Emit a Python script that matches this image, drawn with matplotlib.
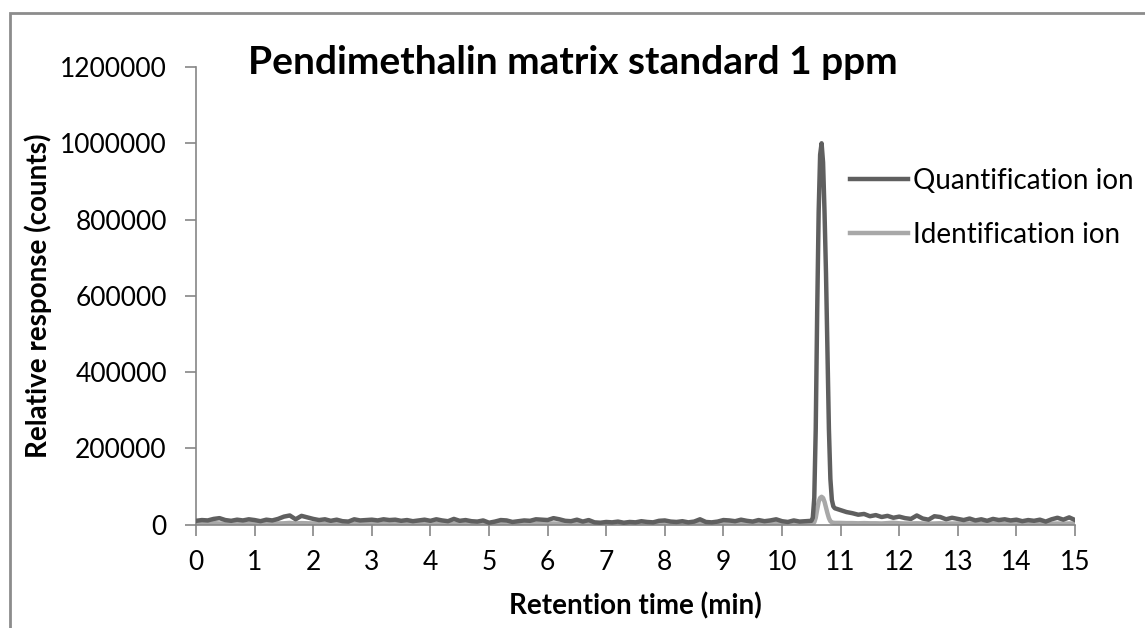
import numpy as np
import matplotlib
matplotlib.use('Agg')
import matplotlib.pyplot as plt
from matplotlib.patches import Rectangle

plt.rcParams['font.family'] = ['Lato', 'DejaVu Sans']

# retention time grids (min)
t_base = np.round(np.arange(0.0, 10.51, 0.1), 3)
t_peak = np.round(np.arange(10.525, 10.91, 0.025), 3)
t_tail = np.round(np.arange(11.0, 15.01, 0.1), 3)

# quantification ion response (counts)
quant_base = [
    10000, 12000, 11000, 15000, 17000, 12000, 10000, 13000, 11000, 14000,
    12000, 9000, 13000, 11000, 15000, 21000, 24000, 14000, 23000, 19000,
    15000, 12000, 14000, 10000, 13000, 9000, 8000, 14000, 11000, 12000,
    13000, 11000, 14000, 12000, 13000, 10000, 12000, 9000, 11000, 13000,
    10000, 14000, 11000, 9000, 15000, 10000, 12000, 9000, 8000, 11000,
    5000, 8000, 12000, 11000, 7000, 9000, 11000, 10000, 14000, 13000,
    12000, 17000, 14000, 10000, 9000, 13000, 8000, 12000, 6000, 5000,
    7000, 6000, 8000, 5000, 7000, 6000, 9000, 7000, 6000, 10000,
    11000, 8000, 7000, 9000, 6000, 8000, 14000, 7000, 6000, 8000,
    12000, 11000, 9000, 13000, 10000, 8000, 12000, 9000, 11000, 14000,
    9000, 7000, 11000, 8000, 9000, 10000,
]
quant_peak = [18000, 70000, 250000, 560000, 820000, 970000, 1000000, 950000,
              820000, 660000, 450000, 250000, 120000, 65000, 48000, 43000]
quant_tail = [
    38000, 33000, 30000, 26000, 28000, 22000, 25000, 20000, 23000, 18000,
    21000, 17000, 15000, 24000, 16000, 13000, 22000, 20000, 14000, 18000,
    15000, 12000, 16000, 11000, 14000, 10000, 15000, 12000, 14000, 11000,
    13000, 9000, 12000, 10000, 13000, 8000, 14000, 18000, 13000, 19000,
    12000,
]

# identification ion response (counts)
ident_base = [
    3000, 3500, 2500, 4000, 3000, 2500, 3500, 3000, 2000, 3000,
    3500, 2500, 3000, 4000, 3000, 3500, 4500, 3000, 4000, 3500,
    3000, 2500, 3000, 2000, 3000, 2500, 2000, 3000, 2500, 3000,
    3000, 2500, 3500, 3000, 2500, 2000, 3000, 2500, 2000, 3000,
    2500, 3000, 2000, 2500, 3000, 2000, 2500, 2000, 2000, 2500,
    1500, 2000, 2500, 2000, 1500, 2000, 2500, 2000, 3000, 2500,
    2500, 3000, 2500, 2000, 2000, 2500, 2000, 2500, 1500, 1500,
    4000, 2000, 2500, 1500, 2000, 1500, 2000, 2000, 1500, 2500,
    2500, 2000, 1500, 2000, 1500, 2000, 3000, 2000, 1500, 2000,
    2500, 2000, 2000, 2500, 2000, 2000, 2500, 2000, 4000, 5000,
    3000, 2500, 3000, 2500, 3000, 3000,
]
ident_peak = [3000, 6000, 18000, 40000, 60000, 70000, 73000, 70000,
              60000, 45000, 30000, 17000, 9000, 6000, 5000, 4500]
ident_tail = [
    4500, 4000, 4000, 3500, 4000, 3500, 3500, 3000, 4000, 5000,
    3500, 3000, 3000, 3500, 3000, 2500, 3000, 3500, 2500, 3000,
    3000, 2500, 3000, 2500, 3000, 2500, 3000, 2500, 2500, 3000,
    2500, 2000, 2500, 2000, 3000, 2000, 2500, 3000, 2500, 3000,
    2500,
]

t = np.concatenate([t_base, t_peak, t_tail])
quant = np.concatenate([quant_base, quant_peak, quant_tail])
ident = np.concatenate([ident_base, ident_peak, ident_tail])

fig = plt.figure(figsize=(11.45, 6.28), dpi=100)
ax = fig.add_axes([0.1712, 0.1646, 0.7677, 0.7287])

ax.plot(t, quant, color='#5f5f5f', lw=3.2, label='Quantification ion',
        solid_joinstyle='round', zorder=3)
ax.plot(t, ident, color='#a8a8a8', lw=3.2, label='Identification ion',
        solid_joinstyle='round', zorder=2)

ax.set_xlim(0, 15)
ax.set_ylim(0, 1200000)
ax.set_xticks(range(0, 16))
ax.set_yticks(range(0, 1200001, 200000))
ax.set_yticklabels([str(v) for v in range(0, 1200001, 200000)])

for s in ['top', 'right']:
    ax.spines[s].set_visible(False)
for s in ['left', 'bottom']:
    ax.spines[s].set_color('#868686')
    ax.spines[s].set_linewidth(1.2)
ax.tick_params(axis='both', colors='#868686', labelcolor='black',
               labelsize=19, width=1.2, length=8)
ax.tick_params(axis='x', pad=10)
ax.tick_params(axis='y', pad=13)

ax.set_xlabel('Retention time (min)', fontsize=20, fontweight='bold', labelpad=13)
ax.set_ylabel('Relative response (counts)', fontsize=20, fontweight='bold', labelpad=6)

fig.text(248 / 1145, 0.901, 'Pendimethalin matrix standard 1 ppm', fontsize=28,
         fontweight='bold', ha='left', va='center')

leg = ax.legend(loc='upper left', bbox_to_anchor=(0.744, 0.779), frameon=False,
                fontsize=20, handlelength=2.1, handletextpad=0.15,
                labelspacing=1.0, borderaxespad=0, borderpad=0)

# chart border
fig.patches.append(Rectangle((10 / 1145, -0.05), 1.2, 1 - 13 / 628 + 0.05,
                             transform=fig.transFigure, fill=False,
                             edgecolor='#8c8c8c', lw=2))

fig.savefig('out.png', dpi=100)
